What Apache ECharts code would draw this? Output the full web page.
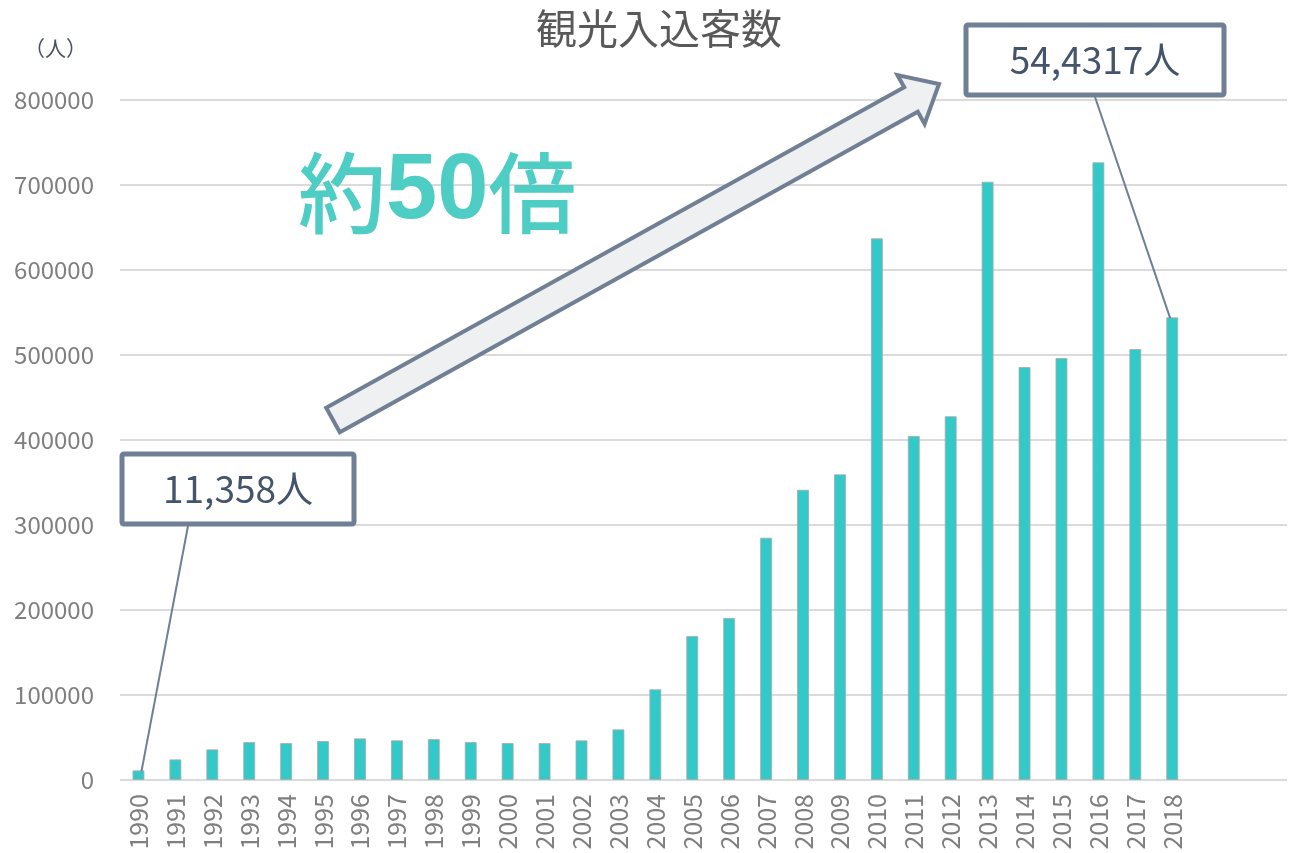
<!DOCTYPE html>
<html>
<head>
<meta charset="utf-8">
<script src="https://cdn.jsdelivr.net/npm/echarts@6/dist/echarts.min.js"></script>
<style>html,body{margin:0;padding:0;background:#fff}#c{width:1290px;height:853px}</style>
</head>
<body>
<div id="c"></div>
<script>
const years = ['1990','1991','1992','1993','1994','1995','1996','1997','1998','1999','2000','2001','2002','2003','2004','2005','2006','2007','2008','2009','2010','2011','2012','2013','2014','2015','2016','2017','2018'];
const visitors = [11358,24300,36100,44700,43500,45900,49000,46700,48200,44700,43500,43500,46700,59600,106700,169400,190600,285100,341500,359600,637300,404700,428000,703900,485900,496500,726700,507000,544317];
const yTicks = {min:0, max:800000, interval:100000};
const titleText = '観光入込客数';
const unitText = '（人）';
const firstLabel = '11,358人';
const lastLabel = '54,4317人';

const FONT = '"Noto Sans CJK JP", "Noto Sans", sans-serif';
const chart = echarts.init(document.getElementById('c'), null, {renderer:'canvas'});
const band = 36.92;
const gridLeft = 120, gridTop = 100, gridBottom = 73;

const option = {
  animation:false,
  backgroundColor:'#ffffff',
  grid:[
    {left:gridLeft, right:3, top:gridTop, bottom:gridBottom},
    {left:gridLeft, width:band*years.length, top:gridTop, bottom:gridBottom}
  ],
  xAxis:[
    {gridIndex:0, type:'value', min:0, max:1, show:false},
    {gridIndex:1, type:'category', data:years,
     axisLine:{show:false}, axisTick:{show:false},
     axisLabel:{rotate:90, margin:14, fontFamily:FONT, fontSize:25, color:'#7f7f7f', interval:0}}
  ],
  yAxis:[
    {gridIndex:0, type:'value', min:yTicks.min, max:yTicks.max, interval:yTicks.interval,
     axisLine:{show:false}, axisTick:{show:false},
     axisLabel:{margin:26, fontFamily:FONT, fontSize:24, color:'#7f7f7f', formatter:v=>String(v)},
     splitLine:{lineStyle:{color:'#cfcfcf', width:1.5}}},
    {gridIndex:1, type:'value', min:yTicks.min, max:yTicks.max, interval:yTicks.interval, show:false, splitLine:{show:false}}
  ],
  series:[{
    type:'bar', xAxisIndex:1, yAxisIndex:1, data:visitors, barWidth:12,
    itemStyle:{color:'#33c9c9', borderColor:'rgba(170,170,170,0.8)', borderWidth:1}
  }]
};
chart.setOption(option);

const p0 = chart.convertToPixel({seriesIndex:0}, [0, visitors[0]]);
const pN = chart.convertToPixel({seriesIndex:0}, [years.length-1, visitors[visitors.length-1]]);

// arrow geometry
const tip=[939,84], tail=[333,420];
const dx=tip[0]-tail[0], dy=tip[1]-tail[1], L=Math.hypot(dx,dy);
const u=[dx/L,dy/L], n=[-u[1],u[0]];
const hw=14, hhw=28, hl=32;
const base=[tip[0]-hl*u[0], tip[1]-hl*u[1]];
const pt=(c,k)=>[c[0]+k*n[0], c[1]+k*n[1]];
const arrowPts=[pt(tail,-hw), pt(base,-hw), pt(base,-hhw), tip, pt(base,hhw), pt(base,hw), pt(tail,hw)];

chart.setOption({
  graphic:[
    {type:'text', x:659, y:28, style:{text:titleText, font:'41px '+FONT, fill:'#595959', align:'center', verticalAlign:'middle'}},
    {type:'text', left:24, top:38, style:{text:unitText, font:'21px '+FONT, fill:'#4a5160'}},
    {type:'line', shape:{x1:188, y1:526, x2:p0[0]+3, y2:p0[1]+1}, style:{stroke:'#6f7f96', lineWidth:2}, z:100},
    {type:'line', shape:{x1:1095, y1:97, x2:pN[0]-2, y2:pN[1]+1}, style:{stroke:'#6f7f96', lineWidth:2}, z:100},
    {type:'polygon', shape:{points:arrowPts}, style:{fill:'#eff0f2', stroke:'#717f94', lineWidth:4, lineJoin:'miter'}, z:100},
    {type:'rect', shape:{x:122, y:454, width:232, height:70, r:2}, style:{fill:'#ffffff', stroke:'#6f7f96', lineWidth:5}, z:101},
    {type:'text', x:238, y:489, style:{text:firstLabel, font:'37px '+FONT, fill:'#44546a', align:'center', verticalAlign:'middle'}, z:102},
    {type:'rect', shape:{x:966, y:25, width:258, height:70, r:2}, style:{fill:'#ffffff', stroke:'#6f7f96', lineWidth:5}, z:101},
    {type:'text', x:1095, y:60, style:{text:lastLabel, font:'37px '+FONT, fill:'#44546a', align:'center', verticalAlign:'middle'}, z:102},
    {type:'text', x:298, y:193, style:{
      text:'{a|約}{b|50}{a|倍}', verticalAlign:'middle', align:'left',
      rich:{a:{fontFamily:FONT, fontSize:88, fontWeight:500, fill:'#4ecdc4', color:'#4ecdc4'},
            b:{fontFamily:'"Liberation Sans", Arial, sans-serif', fontSize:92, fontWeight:'bold', fill:'#4ecdc4', color:'#4ecdc4'}}
    }, z:102}
  ]
});
</script>
</body>
</html>
